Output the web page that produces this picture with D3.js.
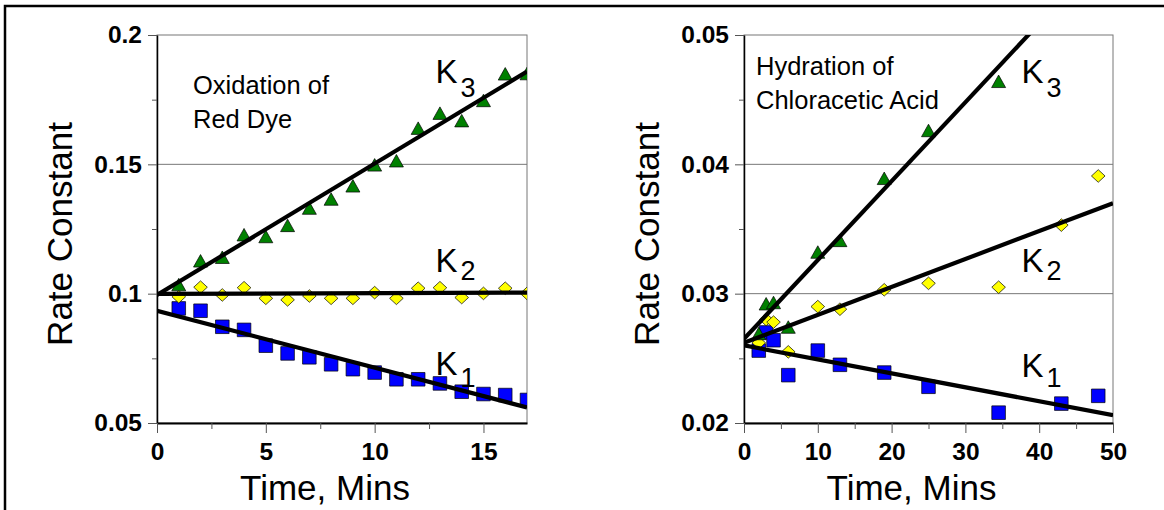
<!DOCTYPE html>
<html>
<head>
<meta charset="utf-8">
<script src="https://cdn.jsdelivr.net/npm/d3@7"></script>
<style>
  html, body { margin: 0; padding: 0; background: #fff; }
  svg { display: block; font-family: "Liberation Sans", Arial, sans-serif; }
</style>
</head>
<body>
<div id="chart"></div>
<script>
// Oxidation of Red Dye
const oxTime = [1, 2, 3, 4, 5, 6, 7, 8, 9, 10, 11, 12, 13, 14, 15, 16, 17];
const oxK1 = [0.0943, 0.0934, 0.0872, 0.0860, 0.0799, 0.0769, 0.0754, 0.0727, 0.0708, 0.0695, 0.0669, 0.0669, 0.0653, 0.0621, 0.0612, 0.0608, 0.0589];
const oxK2 = [0.0988, 0.1025, 0.0995, 0.1023, 0.0982, 0.0976, 0.0991, 0.0982, 0.0982, 0.1004, 0.0982, 0.1021, 0.1023, 0.0985, 0.1001, 0.1021, 0.1001];
const oxK3 = [0.1034, 0.1126, 0.1140, 0.1227, 0.1220, 0.1263, 0.1330, 0.1365, 0.1416, 0.1497, 0.1513, 0.1639, 0.1697, 0.1668, 0.1746, 0.1849, 0.1850];
// fitted lines: [intercept, slope]
const oxFit = { K1: [0.0934, -0.00220], K2: [0.0999, 0.00003], K3: [0.0995, 0.00508] };

// Hydration of Chloracetic Acid
const hyTime = [2, 3, 4, 6, 10, 13, 19, 25, 34.5, 43, 48];
const hyK1 = [0.0256, 0.0270, 0.0264, 0.0237, 0.0256, 0.0245, 0.0239, 0.0228, 0.0208, 0.0215, 0.0221];
const hyK2 = [0.0262, 0.0280, 0.0278, 0.0255, 0.0290, 0.0288, 0.0303, 0.0308, 0.0305, 0.0353, 0.0391];
const hyK3 = [0.0269, 0.0292, 0.0293, 0.0274, 0.0332, 0.0341, 0.0389, 0.0426, 0.0464];
const hyFit = { K1: [0.0260, -0.000108], K2: [0.0262, 0.000216], K3: [0.0265, 0.00061] };

const width = 1164;
const height = 510;

const svg = d3.select("#chart").append("svg")
    .attr("width", width)
    .attr("height", height);

svg.append("rect")
    .attr("width", width).attr("height", height)
    .attr("fill", "#fff");

// outer frame (runs off the right and bottom of the picture)
svg.append("rect")
    .attr("x", 5).attr("y", 6)
    .attr("width", width + 20).attr("height", height + 20)
    .attr("fill", "none")
    .attr("stroke", "#000")
    .attr("stroke-width", 2.5);

const seriesStyle = {
    K1: { fill: "#0000ff", shape: "square" },
    K2: { fill: "#ffff00", shape: "diamond" },
    K3: { fill: "#008000", shape: "triangle" }
};

function symbolPath(shape) {
    if (shape === "square") return "M-6.8,-6.8H6.8V6.8H-6.8Z";
    if (shape === "diamond") return "M0,-6.3L6.8,0L0,6.3L-6.8,0Z";
    return "M0,-6.5L7,6L-7,6Z";
}

const panels = [
    {
        left: 157, right: 527, top: 35, bottom: 423,
        xDomain: [0, 17], yDomain: [0.05, 0.2],
        xTicks: [0, 5, 10, 15], xMinor: [2.5, 7.5, 12.5],
        yTicks: [0.05, 0.1, 0.15, 0.2], yMinor: [0.075, 0.125, 0.175],
        grid: [0.1, 0.15],
        time: oxTime,
        series: { K1: oxK1, K2: oxK2, K3: oxK3 },
        fit: oxFit,
        note: ["Oxidation of", "Red Dye"], noteX: 36, noteY: 59,
        kLabels: [
            { sub: "3", t: 12.8, v: 0.18144, dy: 14 },
            { sub: "2", t: 12.8, v: 0.10838, dy: 8 },
            { sub: "1", t: 12.8, v: 0.06856, dy: 12 }
        ]
    },
    {
        left: 744, right: 1113, top: 35, bottom: 423,
        xDomain: [0, 50], yDomain: [0.02, 0.05],
        xTicks: [0, 10, 20, 30, 40, 50], xMinor: [5, 15, 25, 35, 45],
        yTicks: [0.02, 0.03, 0.04, 0.05], yMinor: [0.025, 0.035, 0.045],
        grid: [0.03, 0.04],
        time: hyTime,
        series: { K1: hyK1, K2: hyK2, K3: hyK3 },
        fit: hyFit,
        note: ["Hydration of", "Chloracetic Acid"], noteX: 12, noteY: 40,
        kLabels: [
            { sub: "3", t: 37.6, v: 0.04629, dy: 14 },
            { sub: "2", t: 37.6, v: 0.03167, dy: 8 },
            { sub: "1", t: 37.6, v: 0.02356, dy: 10 }
        ]
    }
];

panels.forEach((p, i) => {
    const x = d3.scaleLinear().domain(p.xDomain).range([p.left, p.right]);
    const y = d3.scaleLinear().domain(p.yDomain).range([p.bottom, p.top]);
    const g = svg.append("g");

    const clipId = "clip" + i;
    g.append("clipPath").attr("id", clipId)
        .append("rect")
        .attr("x", p.left).attr("y", p.top)
        .attr("width", p.right - p.left).attr("height", p.bottom - p.top);

    // frame + gridlines
    g.append("rect")
        .attr("x", p.left).attr("y", p.top)
        .attr("width", p.right - p.left).attr("height", p.bottom - p.top)
        .attr("fill", "none")
        .attr("stroke", "#777")
        .attr("stroke-width", 1);

    g.selectAll(".grid")
        .data(p.grid)
        .enter()
        .append("line")
        .attr("x1", p.left).attr("x2", p.right)
        .attr("y1", d => y(d)).attr("y2", d => y(d))
        .attr("stroke", "#777")
        .attr("stroke-width", 1);

    // markers
    const plot = g.append("g").attr("clip-path", `url(#${clipId})`);
    ["K1", "K2", "K3"].forEach(k => {
        const vals = p.series[k];
        plot.selectAll(".pt-" + k)
            .data(vals)
            .enter()
            .append("path")
            .attr("transform", (d, j) => `translate(${x(p.time[j])},${y(d)})`)
            .attr("d", symbolPath(seriesStyle[k].shape))
            .attr("fill", seriesStyle[k].fill)
            .attr("stroke", "#000")
            .attr("stroke-width", 0.7);
    });

    // fitted lines
    const line = d3.line().x(d => x(d[0])).y(d => y(d[1]));
    ["K1", "K2", "K3"].forEach(k => {
        const [b0, b1] = p.fit[k];
        const pts = p.xDomain.map(t => [t, b0 + b1 * t]);
        plot.append("path")
            .attr("d", line(pts))
            .attr("fill", "none")
            .attr("stroke", "#000")
            .attr("stroke-width", 4.2);
    });

    // axes
    const yAxis = g.append("g")
        .attr("transform", `translate(${p.left},0)`)
        .call(d3.axisLeft(y).tickValues(p.yTicks).tickFormat(d => String(d))
            .tickSize(9).tickSizeOuter(0).tickPadding(6));
    g.append("g")
        .attr("transform", `translate(${p.left},0)`)
        .call(d3.axisLeft(y).tickValues(p.yMinor).tickFormat("")
            .tickSize(5).tickSizeOuter(0))
        .select(".domain").remove();

    const xAxis = g.append("g")
        .attr("transform", `translate(0,${p.bottom})`)
        .call(d3.axisBottom(x).tickValues(p.xTicks).tickFormat(d => String(d))
            .tickSize(10).tickSizeOuter(0).tickPadding(10));
    g.append("g")
        .attr("transform", `translate(0,${p.bottom})`)
        .call(d3.axisBottom(x).tickValues(p.xMinor).tickFormat("")
            .tickSize(6).tickSizeOuter(0))
        .select(".domain").remove();

    g.selectAll(".tick line").attr("stroke", "#555").attr("stroke-width", 1);
    g.selectAll(".tick text")
        .attr("fill", "#000")
        .style("font-family", '"Liberation Sans", Arial, sans-serif')
        .style("font-size", "24.5px")
        .style("font-weight", "bold");
    yAxis.select(".domain").attr("stroke", "#000").attr("stroke-width", 1.5);
    xAxis.select(".domain").attr("stroke", "#000").attr("stroke-width", 2);

    // axis titles
    g.append("text")
        .attr("x", (p.left + p.right) / 2 - 17)
        .attr("y", 500)
        .attr("text-anchor", "middle")
        .style("font-size", "35px")
        .text("Time, Mins");

    g.append("text")
        .attr("transform", `translate(${p.left - 85},${(p.top + p.bottom) / 2 + 5}) rotate(-90)`)
        .attr("text-anchor", "middle")
        .style("font-size", "35px")
        .text("Rate Constant");

    // panel note
    g.selectAll(".note")
        .data(p.note)
        .enter()
        .append("text")
        .attr("x", p.left + p.noteX)
        .attr("y", (d, j) => p.top + p.noteY + j * 34)
        .style("font-size", "25.5px")
        .text(d => d);

    // K labels with subscripts
    p.kLabels.forEach(l => {
        const t = g.append("text")
            .attr("x", x(l.t))
            .attr("y", y(l.v))
            .style("font-size", "33px");
        t.append("tspan").text("K");
        t.append("tspan")
            .attr("dx", 3)
            .attr("dy", l.dy)
            .style("font-size", "27px")
            .text(l.sub);
    });
});
</script>
</body>
</html>
